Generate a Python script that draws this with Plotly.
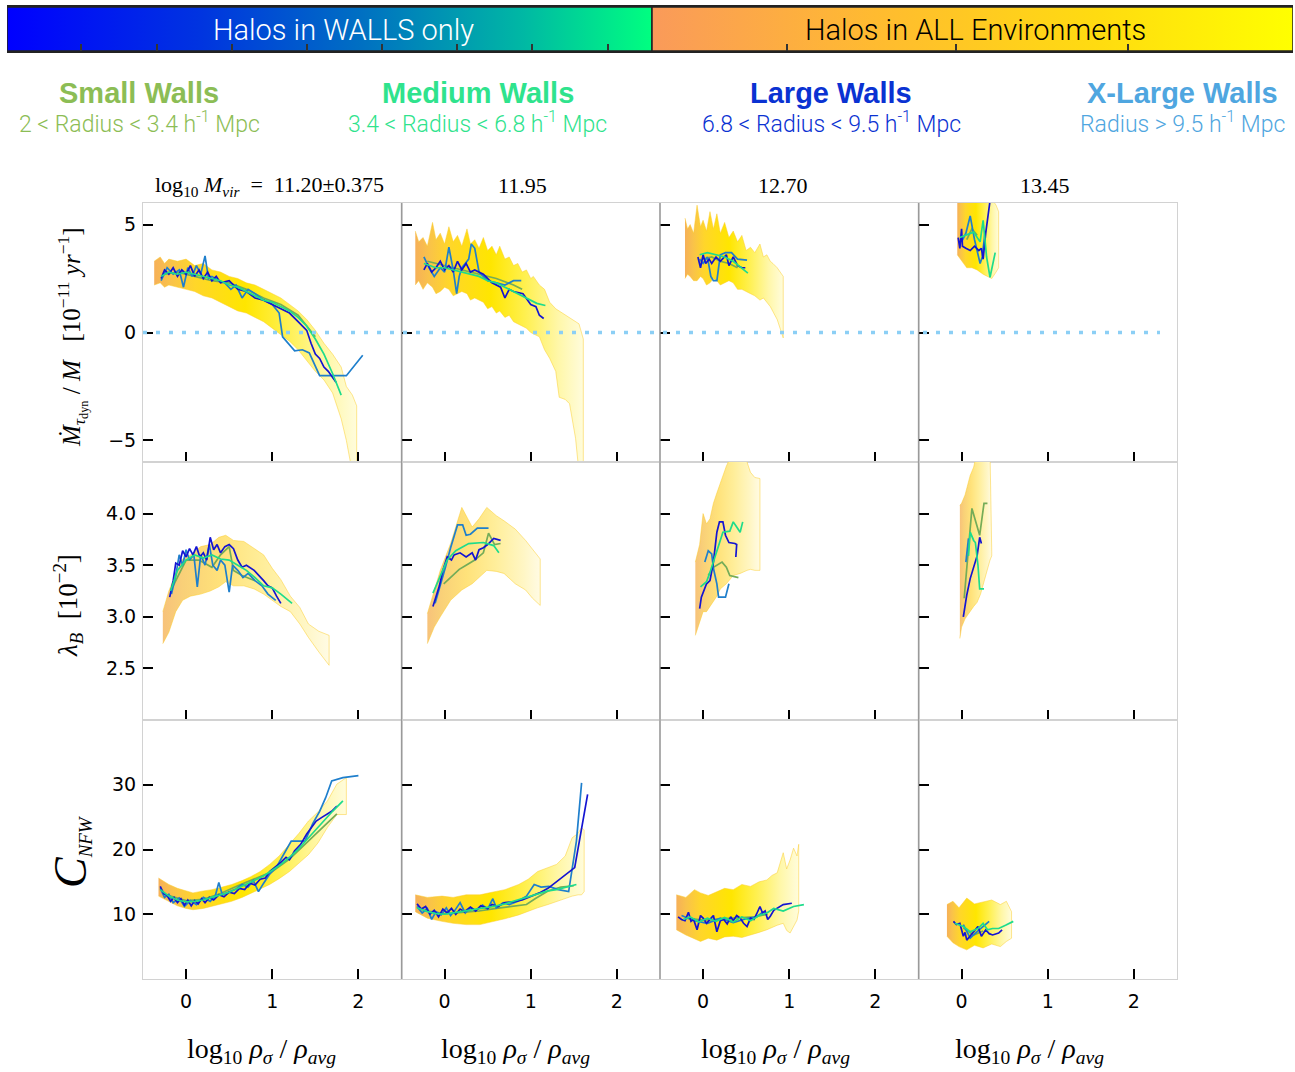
import plotly.graph_objects as go

W, H = 1295, 1072

# ---------------- data ----------------
# x = log10 rho_sigma / rho_avg
# b = band "Halos in ALL Environments" (x, lower, upper)
# s = Small Walls, m = Medium Walls, l = Large Walls, xl = X-Large Walls

# ===== Row 1 : Mdot_tau_dyn / M  [1e-11 yr^-1] =====
b11_x = [-0.37, -0.3, -0.25, -0.2, -0.1, 0.0, 0.1, 0.2, 0.3, 0.4, 0.5, 0.6, 0.7, 0.8, 0.9, 1.0, 1.1, 1.2, 1.3, 1.4, 1.5, 1.6, 1.7, 1.8, 1.86, 1.93, 1.98]
b11_hi = [3.3, 3.5, 3.2, 3.4, 3.3, 3.4, 3.1, 3.2, 2.9, 2.8, 2.6, 2.5, 2.3, 2.2, 2.0, 1.8, 1.6, 1.3, 1.0, 0.6, 0.1, -0.5, -1.0, -1.6, -2.5, -2.9, -3.4]
b11_lo = [2.2, 2.3, 2.1, 2.2, 2.1, 2.0, 1.9, 1.7, 1.6, 1.4, 1.2, 1.0, 0.9, 0.7, 0.5, 0.2, -0.1, -0.4, -0.8, -1.3, -1.8, -2.2, -2.8, -4.0, -5.0, -6.5, -6.5]
l11_x = [-0.29, -0.25, -0.2, -0.15, -0.1, -0.05, 0.0, 0.05, 0.1, 0.15, 0.2, 0.25, 0.3, 0.35, 0.4, 0.5, 0.6, 0.7, 0.8, 0.9, 1.0, 1.1, 1.2, 1.3, 1.4, 1.45, 1.5, 1.55, 1.6, 1.65, 1.7, 1.74]
l11_y = [2.5, 2.9, 2.7, 3.0, 2.6, 2.9, 2.7, 3.1, 2.6, 2.9, 2.5, 2.8, 2.4, 2.6, 2.3, 2.4, 2.0, 1.9, 1.6, 1.5, 1.3, 1.1, 0.9, 0.5, 0.1, -0.5, -1.0, -1.2, -1.6, -1.8, -2.1, -2.3]
xl11_x = [-0.29, -0.22, -0.15, -0.08, -0.03, 0.02, 0.07, 0.12, 0.17, 0.22, 0.26, 0.3, 0.38, 0.45, 0.52, 0.58, 0.65, 0.72, 0.8, 0.9, 1.0, 1.08, 1.12, 1.26, 1.35, 1.43, 1.55, 1.86, 2.05]
xl11_y = [2.4, 3.0, 2.7, 2.9, 2.1, 3.0, 2.6, 3.1, 2.7, 3.55, 2.5, 2.6, 2.4, 2.3, 2.0, 2.2, 1.6, 2.0, 1.8, 1.5, 1.3, 0.9, -0.2, -0.85, -0.8, -0.95, -2.0, -2.0, -1.05]
m11_x = [-0.29, -0.2, -0.1, 0.0, 0.1, 0.2, 0.3, 0.4, 0.5, 0.6, 0.7, 0.8, 0.9, 1.0, 1.1, 1.2, 1.3, 1.4, 1.5, 1.6, 1.7, 1.8]
m11_y = [2.6, 2.8, 2.7, 2.8, 2.7, 2.6, 2.5, 2.4, 2.2, 2.1, 1.9, 1.7, 1.5, 1.4, 1.2, 1.0, 0.7, 0.3, -0.3, -1.0, -1.9, -2.9]
s11_x = [-0.25, -0.1, 0.1, 0.3, 0.5, 0.7, 0.9, 1.1, 1.3, 1.5]
s11_y = [2.7, 2.8, 2.6, 2.4, 2.3, 2.0, 1.6, 1.3, 0.8, -0.2]

b12_x = [-0.34, -0.3, -0.25, -0.2, -0.14, -0.1, -0.05, 0.0, 0.05, 0.1, 0.15, 0.2, 0.26, 0.3, 0.35, 0.4, 0.45, 0.5, 0.55, 0.6, 0.64, 0.7, 0.75, 0.8, 0.85, 0.9, 0.95, 1.0, 1.03, 1.1, 1.16, 1.22, 1.29, 1.33, 1.4, 1.45, 1.52, 1.56, 1.61]
b12_hi = [4.7, 4.2, 4.4, 4.0, 5.1, 4.3, 4.6, 4.1, 4.9, 4.2, 4.5, 4.0, 4.8, 4.1, 4.3, 3.9, 4.4, 3.8, 4.0, 3.6, 4.0, 3.4, 3.5, 3.1, 3.2, 2.8, 2.9, 2.5, 2.6, 2.2, 2.0, 1.4, 1.1, 1.0, 0.8, 0.7, 0.5, 0.4, -0.3]
b12_lo = [2.2, 2.4, 2.0, 2.3, 2.1, 1.8, 1.9, 2.1, 2.0, 1.7, 1.8, 1.9, 1.8, 1.5, 1.6, 1.5, 1.4, 1.1, 1.2, 0.9, 1.0, 0.7, 0.8, 0.5, 0.4, 0.3, 0.2, 0.0, -0.05, -0.2, -0.8, -1.2, -1.8, -3.0, -3.1, -3.3, -4.9, -6.5, -6.5]
l12_x = [-0.24, -0.2, -0.15, -0.1, -0.05, 0.0, 0.05, 0.1, 0.15, 0.2, 0.25, 0.3, 0.35, 0.45, 0.55, 0.6, 0.65, 0.7, 0.75, 0.8, 0.91, 1.0, 1.06, 1.1, 1.15]
l12_y = [2.9, 3.2, 2.8, 3.0, 3.3, 2.9, 3.1, 2.8, 3.3, 2.9, 3.2, 2.8, 2.9, 2.7, 2.3, 2.2, 2.1, 1.6, 2.0, 1.9, 1.8, 1.3, 1.2, 0.8, 0.65]
xl12_x = [-0.24, -0.18, -0.12, -0.05, 0.0, 0.05, 0.1, 0.14, 0.17, 0.2, 0.24, 0.28, 0.31, 0.35, 0.4, 0.5, 0.6, 0.7, 0.8, 0.89]
xl12_y = [3.5, 3.0, 2.6, 3.0, 2.8, 3.95, 2.9, 1.8, 2.6, 3.0, 3.2, 3.4, 4.1, 3.9, 2.8, 2.4, 2.3, 2.2, 2.4, 2.4]
m12_x = [-0.24, -0.1, 0.0, 0.1, 0.2, 0.3, 0.4, 0.5, 0.6, 0.7, 0.8, 0.9, 1.0, 1.07, 1.17]
m12_y = [3.2, 3.0, 3.0, 2.9, 2.8, 2.7, 2.6, 2.4, 2.3, 2.1, 1.9, 1.7, 1.5, 1.35, 1.25]
s12_x = [-0.2, 0.0, 0.2, 0.4, 0.6, 0.8, 0.9]
s12_y = [3.3, 3.1, 2.9, 2.7, 2.5, 2.2, 2.0]

b13_x = [-0.21, -0.18, -0.15, -0.11, -0.07, -0.03, 0.0, 0.04, 0.08, 0.12, 0.16, 0.2, 0.25, 0.3, 0.35, 0.4, 0.45, 0.5, 0.55, 0.6, 0.66, 0.7, 0.74, 0.78, 0.81, 0.86, 0.93]
b13_hi = [5.3, 4.8, 5.0, 4.6, 5.9, 4.9, 5.2, 4.7, 5.6, 4.8, 5.5, 4.6, 5.1, 4.4, 4.7, 4.2, 4.5, 3.8, 3.95, 3.7, 4.1, 3.5, 3.6, 3.3, 3.2, 3.0, 2.6]
b13_lo = [2.5, 2.7, 2.6, 2.4, 2.4, 2.6, 2.5, 2.2, 2.3, 2.5, 2.4, 2.2, 2.3, 2.4, 2.3, 2.0, 2.0, 1.9, 1.8, 1.7, 1.5, 1.6, 1.4, 1.2, 1.0, 0.6, -0.25]
l13_x = [-0.06, -0.03, 0.0, 0.03, 0.07, 0.1, 0.15, 0.2, 0.27, 0.3, 0.35, 0.4, 0.45, 0.49]
l13_y = [3.5, 3.0, 3.6, 3.2, 3.4, 3.2, 3.5, 3.3, 3.6, 3.1, 3.5, 3.1, 3.0, 3.0]
xl13_x = [-0.04, 0.0, 0.05, 0.09, 0.12, 0.16, 0.2, 0.26, 0.33, 0.4, 0.51]
xl13_y = [3.4, 3.2, 3.5, 2.6, 2.4, 2.4, 3.6, 3.7, 3.7, 3.4, 3.35]
m13_x = [-0.04, 0.05, 0.15, 0.25, 0.35, 0.45, 0.52]
m13_y = [3.6, 3.7, 3.6, 3.5, 3.3, 3.0, 2.75]
s13_x = [0.0, 0.1, 0.2, 0.3, 0.4]
s13_y = [3.4, 3.5, 3.3, 3.2, 3.0]

b14_x = [-0.05, 0.0, 0.06, 0.12, 0.18, 0.25, 0.3, 0.35, 0.4, 0.43]
b14_hi = [6.5, 6.5, 6.5, 6.5, 6.5, 6.5, 6.5, 6.2, 5.9, 5.6]
b14_lo = [3.6, 3.3, 3.0, 3.0, 2.9, 2.7, 2.6, 2.5, 2.8, 3.0]
l14_x = [-0.04, -0.02, 0.0, 0.01, 0.05, 0.1, 0.15, 0.2, 0.23, 0.25, 0.28, 0.3, 0.33]
l14_y = [4.4, 3.9, 4.8, 4.0, 3.9, 3.8, 4.0, 3.8, 3.9, 3.4, 4.6, 5.2, 6.1]
xl14_x = [0.0, 0.05, 0.1, 0.15, 0.215, 0.24, 0.27]
xl14_y = [4.2, 4.6, 5.4, 4.3, 3.2, 3.5, 4.6]
m14_x = [-0.02, 0.05, 0.14, 0.215, 0.25, 0.29, 0.33, 0.39]
m14_y = [4.4, 4.5, 4.65, 4.2, 5.2, 3.5, 2.56, 3.7]
s14_x = [0.06, 0.12, 0.18]
s14_y = [4.3, 4.8, 4.5]

# ===== Row 2 : lambda_B  [1e-2] =====
b21_x = [-0.27, -0.2, -0.12, -0.04, 0.05, 0.17, 0.28, 0.38, 0.46, 0.55, 0.67, 0.79, 0.9, 1.0, 1.1, 1.21, 1.32, 1.42, 1.54, 1.66]
b21_hi = [3.05, 3.25, 3.42, 3.56, 3.6, 3.68, 3.7, 3.77, 3.79, 3.74, 3.73, 3.66, 3.6, 3.47, 3.36, 3.2, 3.09, 2.93, 2.86, 2.82]
b21_lo = [2.74, 2.85, 3.05, 3.16, 3.2, 3.22, 3.25, 3.29, 3.34, 3.3, 3.3, 3.27, 3.22, 3.16, 3.1, 3.05, 2.93, 2.80, 2.66, 2.53]
l21_x = [-0.19, -0.15, -0.12, -0.08, -0.04, 0.0, 0.04, 0.08, 0.12, 0.16, 0.2, 0.24, 0.28, 0.32, 0.36, 0.4, 0.45, 0.5, 0.55, 0.6, 0.65, 0.7, 0.79, 0.85, 0.9, 0.95, 1.0, 1.05, 1.1]
l21_y = [3.19, 3.35, 3.52, 3.5, 3.64, 3.58, 3.66, 3.6, 3.68, 3.58, 3.62, 3.55, 3.77, 3.65, 3.7, 3.62, 3.68, 3.7, 3.66, 3.55, 3.48, 3.5, 3.45, 3.4, 3.35, 3.3, 3.28, 3.2, 3.13]
xl21_x = [-0.17, -0.12, -0.08, -0.04, 0.0, 0.04, 0.09, 0.13, 0.17, 0.22, 0.27, 0.31, 0.36, 0.4, 0.45, 0.5, 0.54, 0.6, 0.66, 0.72, 0.8, 0.88, 0.95, 1.04]
xl21_y = [3.22, 3.4, 3.6, 3.5, 3.65, 3.55, 3.6, 3.29, 3.6, 3.5, 3.7, 3.5, 3.45, 3.55, 3.5, 3.24, 3.5, 3.45, 3.38, 3.42, 3.35, 3.3, 3.22, 3.16]
m21_x = [-0.18, -0.1, 0.0, 0.1, 0.2, 0.3, 0.4, 0.5, 0.6, 0.7, 0.8, 0.9, 1.0, 1.1, 1.23]
m21_y = [3.25, 3.45, 3.55, 3.6, 3.57, 3.6, 3.56, 3.55, 3.5, 3.45, 3.38, 3.3, 3.28, 3.22, 3.13]
s21_x = [-0.15, 0.0, 0.15, 0.3, 0.4, 0.5, 0.55, 0.65, 0.8]
s21_y = [3.3, 3.55, 3.55, 3.48, 3.6, 3.68, 3.45, 3.4, 3.35]

b22_x = [-0.2, -0.12, -0.05, 0.07, 0.2, 0.32, 0.4, 0.49, 0.6, 0.69, 0.82, 0.94, 1.02, 1.11]
b22_hi = [3.03, 3.25, 3.45, 3.71, 4.06, 3.87, 3.95, 4.06, 3.98, 3.93, 3.85, 3.74, 3.65, 3.56]
b22_lo = [2.74, 2.9, 3.0, 3.16, 3.26, 3.32, 3.38, 3.45, 3.44, 3.42, 3.32, 3.26, 3.18, 3.11]
l22_x = [-0.135, -0.1, -0.06, -0.02, 0.03, 0.08, 0.11, 0.18, 0.25, 0.32, 0.36, 0.4, 0.45, 0.5, 0.57, 0.65]
l22_y = [3.10, 3.2, 3.3, 3.45, 3.58, 3.55, 3.6, 3.62, 3.58, 3.62, 3.55, 3.65, 3.67, 3.7, 3.76, 3.74]
xl22_x = [-0.11, -0.05, 0.01, 0.07, 0.15, 0.21, 0.25, 0.3, 0.38, 0.51]
xl22_y = [3.13, 3.3, 3.48, 3.67, 3.89, 3.89, 3.79, 3.8, 3.86, 3.86]
m22_x = [-0.135, 0.03, 0.13, 0.28, 0.45, 0.57, 0.63]
m22_y = [3.23, 3.55, 3.64, 3.71, 3.72, 3.69, 3.62]
s22_x = [-0.01, 0.1, 0.17, 0.25, 0.35, 0.45, 0.51, 0.58, 0.65]
s22_y = [3.32, 3.4, 3.46, 3.5, 3.55, 3.62, 3.81, 3.7, 3.71]

b23_x = [-0.09, -0.04, 0.0, 0.04, 0.08, 0.12, 0.16, 0.2, 0.27, 0.35, 0.43, 0.51, 0.55, 0.6, 0.66]
b23_hi = [3.53, 3.7, 4.0, 3.9, 3.95, 4.1, 4.2, 4.3, 4.46, 4.6, 4.6, 4.5, 4.4, 4.35, 4.34]
b23_lo = [2.82, 2.95, 3.05, 3.05, 3.09, 3.15, 3.2, 3.27, 3.32, 3.4, 3.42, 3.45, 3.46, 3.45, 3.45]
l23_x = [-0.04, -0.02, 0.04, 0.08, 0.12, 0.16, 0.19, 0.23, 0.26, 0.3, 0.37, 0.39, 0.38]
l23_y = [3.08, 3.19, 3.32, 3.35, 3.53, 3.82, 3.92, 3.92, 3.79, 3.72, 3.71, 3.7, 3.58]
xl23_x = [0.02, 0.06, 0.1, 0.12, 0.16, 0.18, 0.22, 0.26, 0.3]
xl23_y = [3.53, 3.64, 3.61, 3.47, 3.32, 3.19, 3.19, 3.19, 3.32]
m23_x = [-0.03, 0.04, 0.08, 0.16, 0.23, 0.31, 0.35, 0.39, 0.43, 0.46]
m23_y = [3.29, 3.34, 3.43, 3.63, 3.82, 3.83, 3.92, 3.87, 3.82, 3.92]
s23_x = [0.06, 0.12, 0.22, 0.27, 0.31, 0.41]
s23_y = [3.40, 3.48, 3.53, 3.48, 3.40, 3.38]

b24_x = [-0.02, 0.0, 0.04, 0.1, 0.14, 0.18, 0.22, 0.26, 0.3, 0.33, 0.35]
b24_hi = [4.08, 4.1, 4.18, 4.37, 4.45, 4.6, 4.6, 4.6, 4.6, 4.6, 3.63]
b24_lo = [2.79, 2.9, 2.98, 3.05, 3.1, 3.14, 3.22, 3.34, 3.45, 3.55, 3.59]
l24_x = [0.02, 0.06, 0.1, 0.14, 0.18, 0.21, 0.23]
l24_y = [3.0, 3.21, 3.37, 3.47, 3.59, 3.77, 3.71]
xl24_x = [0.05, 0.08]
xl24_y = [3.53, 3.76]
m24_x = [0.08, 0.1, 0.14, 0.16, 0.19, 0.21, 0.26]
m24_y = [3.59, 3.82, 3.74, 3.72, 3.5, 3.27, 3.27]
s24_x = [0.03, 0.08, 0.12, 0.21, 0.26, 0.3]
s24_y = [3.18, 3.66, 4.05, 3.79, 4.1, 4.1]

# ===== Row 3 : C_NFW =====
b31_x = [-0.32, -0.2, -0.1, 0.0, 0.08, 0.2, 0.3, 0.42, 0.53, 0.65, 0.75, 0.86, 0.97, 1.08, 1.2, 1.31, 1.42, 1.53, 1.64, 1.75, 1.86]
b31_hi = [15.6, 14.6, 14.0, 13.6, 13.3, 13.6, 13.8, 14.2, 14.6, 15.2, 15.8, 16.6, 17.7, 19.0, 20.8, 22.5, 24.4, 25.8, 27.5, 30.1, 31.1]
b31_lo = [12.8, 12.0, 11.3, 10.9, 10.7, 10.9, 11.2, 11.6, 12.0, 12.6, 13.2, 13.9, 14.6, 15.5, 16.6, 17.9, 19.2, 21.0, 23.4, 25.4, 25.4]
l31_x = [-0.3, -0.26, -0.22, -0.18, -0.14, -0.1, -0.06, -0.02, 0.02, 0.06, 0.1, 0.14, 0.18, 0.22, 0.27, 0.32, 0.38, 0.44, 0.5, 0.56, 0.62, 0.68, 0.74, 0.8, 0.86, 0.92, 0.97, 1.03, 1.1, 1.16, 1.2, 1.26, 1.33, 1.4, 1.46, 1.51, 1.58, 1.63, 1.69, 1.75]
l31_y = [14.3, 13.2, 12.9, 12.0, 12.6, 11.8, 12.4, 11.4, 12.2, 11.3, 12.1, 11.6, 12.4, 11.8, 12.6, 12.2, 13.0, 12.7, 13.4, 13.2, 14.0, 13.8, 14.8, 14.5, 15.4, 15.6, 16.6, 17.2, 18.0, 18.8, 18.4, 19.8, 20.8, 22.4, 23.6, 24.4, 25.0, 25.4, 25.9, 26.7]
xl31_x = [-0.3, -0.25, -0.2, -0.15, -0.08, -0.02, 0.05, 0.12, 0.2, 0.28, 0.34, 0.38, 0.42, 0.5, 0.58, 0.65, 0.72, 0.78, 0.84, 0.9, 0.97, 1.05, 1.13, 1.22, 1.38, 1.47, 1.55, 1.62, 1.69, 1.82, 2.0]
xl31_y = [14.0, 12.6, 13.1, 11.8, 12.5, 11.2, 12.1, 11.5, 12.6, 12.0, 12.9, 14.9, 13.0, 13.5, 13.9, 14.6, 14.2, 15.2, 13.5, 14.8, 16.2, 17.3, 19.2, 21.3, 21.3, 24.0, 25.9, 28.0, 30.6, 31.1, 31.4]
m31_x = [-0.3, -0.2, -0.1, 0.0, 0.1, 0.2, 0.3, 0.4, 0.5, 0.6, 0.7, 0.8, 0.9, 1.0, 1.1, 1.2, 1.3, 1.4, 1.5, 1.6, 1.7, 1.82]
m31_y = [13.8, 12.8, 12.2, 11.9, 12.0, 12.2, 12.6, 13.0, 13.4, 14.0, 14.6, 15.2, 15.9, 16.8, 17.7, 18.8, 20.0, 21.5, 23.0, 24.5, 25.9, 27.5]
s31_x = [-0.2, 0.0, 0.2, 0.4, 0.6, 0.8, 1.0, 1.2, 1.4, 1.6, 1.75]
s31_y = [12.9, 12.1, 12.3, 13.2, 14.4, 15.5, 16.6, 18.5, 21.0, 23.5, 25.5]

b32_x = [-0.34, -0.2, -0.03, 0.1, 0.25, 0.41, 0.55, 0.7, 0.86, 0.97, 1.08, 1.2, 1.3, 1.4, 1.48, 1.55, 1.59, 1.62]
b32_hi = [13.0, 12.6, 12.8, 12.6, 13.0, 13.0, 13.4, 13.8, 14.6, 15.4, 16.6, 17.2, 17.7, 19.0, 21.8, 22.5, 23.4, 23.0]
b32_lo = [10.4, 9.4, 8.9, 8.6, 8.4, 8.4, 8.8, 9.3, 9.9, 10.4, 11.0, 11.5, 12.0, 12.4, 12.8, 13.0, 13.0, 13.5]
l32_x = [-0.32, -0.27, -0.22, -0.17, -0.12, -0.07, -0.02, 0.03, 0.08, 0.13, 0.18, 0.23, 0.3, 0.36, 0.42, 0.5, 0.55, 0.62, 0.7, 0.8, 0.9, 1.0, 1.1, 1.2, 1.3, 1.4, 1.51, 1.66]
l32_y = [11.6, 10.8, 11.2, 10.0, 10.6, 9.6, 10.8, 10.2, 10.9, 10.0, 10.8, 10.4, 11.1, 10.5, 11.3, 10.9, 11.5, 11.2, 11.8, 11.9, 12.2, 12.7, 13.3, 14.0, 15.0, 16.0, 17.2, 28.5]
xl32_x = [-0.32, -0.26, -0.2, -0.15, -0.1, -0.04, 0.02, 0.07, 0.12, 0.18, 0.24, 0.3, 0.36, 0.44, 0.5, 0.56, 0.6, 0.68, 0.75, 0.85, 0.95, 1.04, 1.12, 1.21, 1.32, 1.44, 1.53, 1.59]
xl32_y = [11.2, 10.2, 10.9, 9.2, 10.4, 9.9, 11.0, 9.8, 10.6, 11.8, 10.2, 11.0, 10.6, 11.4, 10.8, 12.4, 11.0, 11.8, 11.5, 12.0, 12.8, 14.6, 14.2, 14.3, 13.8, 13.5, 21.3, 30.3]
m32_x = [-0.32, -0.2, -0.1, 0.0, 0.1, 0.2, 0.3, 0.4, 0.5, 0.6, 0.7, 0.8, 0.9, 1.0, 1.1, 1.2, 1.3, 1.4, 1.53]
m32_y = [11.0, 10.4, 10.1, 10.0, 10.2, 10.4, 10.6, 10.8, 11.0, 11.3, 11.6, 12.0, 12.4, 12.8, 13.2, 13.6, 13.8, 14.2, 14.6]
s32_x = [-0.25, 0.0, 0.2, 0.4, 0.6, 0.8, 0.95, 1.05, 1.2, 1.35, 1.5]
s32_y = [10.6, 10.1, 10.3, 10.5, 10.9, 11.2, 11.5, 12.4, 13.6, 14.2, 14.4]

b33_x = [-0.31, -0.2, -0.1, -0.03, 0.06, 0.16, 0.25, 0.35, 0.45, 0.55, 0.65, 0.74, 0.8, 0.86, 0.93, 0.97, 1.01, 1.05, 1.09, 1.11]
b33_hi = [13.0, 12.6, 13.8, 13.3, 12.9, 13.5, 14.0, 13.8, 14.6, 14.3, 15.0, 15.3, 16.0, 16.4, 19.5, 17.0, 18.4, 20.2, 19.0, 20.8]
b33_lo = [7.6, 6.8, 6.2, 5.8, 6.3, 6.0, 6.5, 6.6, 6.4, 6.8, 7.2, 7.6, 7.9, 8.3, 8.6, 7.5, 7.1, 8.2, 9.1, 10.5]
l33_x = [-0.29, -0.25, -0.21, -0.17, -0.14, -0.11, -0.07, -0.03, 0.0, 0.04, 0.08, 0.12, 0.16, 0.2, 0.24, 0.28, 0.32, 0.35, 0.39, 0.43, 0.47, 0.51, 0.55, 0.59, 0.62, 0.66, 0.69, 0.72, 0.75, 0.78, 0.82, 0.86, 0.93, 1.03]
l33_y = [9.6, 9.2, 9.0, 10.3, 8.9, 9.2, 7.6, 9.8, 9.4, 8.6, 9.2, 9.8, 7.3, 9.0, 9.2, 8.5, 9.6, 9.0, 9.8, 9.4, 8.6, 8.1, 9.4, 9.2, 10.0, 11.2, 10.2, 10.5, 9.2, 9.7, 10.6, 10.9, 11.5, 11.7]
xl33_x = [-0.25, -0.1, 0.05, 0.2, 0.35, 0.5, 0.62, 0.7]
xl33_y = [9.8, 9.0, 8.6, 9.4, 8.7, 9.3, 9.6, 10.4]
m33_x = [-0.23, -0.15, -0.05, 0.05, 0.15, 0.25, 0.35, 0.45, 0.55, 0.65, 0.74, 0.82, 0.93, 1.05, 1.17]
m33_y = [9.2, 9.6, 8.8, 9.4, 8.9, 9.5, 8.8, 9.6, 9.0, 9.8, 10.2, 10.9, 10.5, 11.2, 11.5]
s33_x = [-0.2, 0.0, 0.2, 0.4, 0.6, 0.75]
s33_y = [9.4, 9.1, 9.3, 9.5, 9.6, 10.0]

b34_x = [-0.17, -0.1, -0.03, 0.06, 0.15, 0.25, 0.35, 0.45, 0.52, 0.58]
b34_hi = [11.5, 12.0, 11.0, 12.5, 11.6, 11.9, 12.2, 11.5, 12.0, 10.4]
b34_lo = [6.6, 5.6, 5.0, 4.5, 5.2, 4.8, 5.4, 5.0, 5.8, 6.3]
l34_x = [-0.095, -0.06, -0.02, 0.0, 0.02, 0.04, 0.06, 0.09, 0.11, 0.15, 0.19, 0.23, 0.28, 0.32, 0.36, 0.43, 0.47]
l34_y = [8.9, 8.4, 8.6, 7.4, 6.6, 7.2, 6.0, 6.5, 6.8, 7.5, 8.1, 6.6, 7.6, 7.0, 6.8, 7.1, 7.6]
xl34_x = [0.02, 0.1, 0.17, 0.25, 0.32]
xl34_y = [8.4, 6.3, 7.2, 8.1, 8.9]
m34_x = [-0.08, 0.02, 0.1, 0.19, 0.25, 0.3, 0.36, 0.43, 0.51, 0.6]
m34_y = [8.6, 8.1, 7.3, 7.8, 8.6, 7.6, 7.8, 7.8, 8.3, 8.9]
s34_x = [0.02, 0.14, 0.25]
s34_y = [7.9, 6.8, 7.4]

# ---------------- labels / ticks ----------------
mass_titles = ["log<sub>10</sub> <i>M</i><sub><i>vir</i></sub>  =  11.20±0.375", "11.95", "12.70", "13.45"]
x_tickvals = [0, 1, 2]
x_ticktext = ["0", "1", "2"]
y_tickvals = [[-5, 0, 5], [2.5, 3.0, 3.5, 4.0], [10, 20, 30]]
y_ticktext = [["−5", "0", "5"], ["2.5", "3.0", "3.5", "4.0"], ["10", "20", "30"]]
y_ranges = [[-6, 6], [2.0, 4.5], [0, 40]]
x_range = [-0.5, 2.5]
zero_level = 0
wall_names = ["Small Walls", "Medium Walls", "Large Walls", "X-Large Walls"]
wall_ranges = ["2 &lt; Radius &lt; 3.4 h<sup>-1</sup> Mpc", "3.4 &lt; Radius &lt; 6.8 h<sup>-1</sup> Mpc",
               "6.8 &lt; Radius &lt; 9.5 h<sup>-1</sup> Mpc", "Radius &gt; 9.5 h<sup>-1</sup> Mpc"]
wall_label_colors = ["#8cbd55", "#2fe38d", "#0a32d2", "#4fa6e0"]
banner_edges = [7, 652, 1293]
banner_ticks = [81, 157, 232, 307, 382, 457, 532, 608, 787, 956, 1128]

# series styling
line_colors = {"small": "#74ac58", "xlarge": "#1f7fcc", "large": "#1414d2", "medium": "#1edc8c"}
band_scale_strong = [[0.0, "#f6b058"], [0.08, "#f9c24a"], [0.2, "#ffd62a"], [0.45, "#ffe600"],
                     [0.65, "#fff04e"], [0.85, "#fff7a8"], [1.0, "#fffcdc"]]
band_scale_pale = [[0.0, "#f7c27a"], [0.12, "#f9d078"], [0.35, "#ffe27a"], [0.6, "#ffee9a"],
                   [0.85, "#fff6c4"], [1.0, "#fffbe4"]]
row_band_scale = [band_scale_strong, band_scale_pale, band_scale_strong]

panels = {
    (0, 0): dict(band=(b11_x, b11_lo, b11_hi), small=(s11_x, s11_y), xlarge=(xl11_x, xl11_y), large=(l11_x, l11_y), medium=(m11_x, m11_y)),
    (0, 1): dict(band=(b12_x, b12_lo, b12_hi), small=(s12_x, s12_y), xlarge=(xl12_x, xl12_y), large=(l12_x, l12_y), medium=(m12_x, m12_y)),
    (0, 2): dict(band=(b13_x, b13_lo, b13_hi), small=(s13_x, s13_y), xlarge=(xl13_x, xl13_y), large=(l13_x, l13_y), medium=(m13_x, m13_y)),
    (0, 3): dict(band=(b14_x, b14_lo, b14_hi), small=(s14_x, s14_y), xlarge=(xl14_x, xl14_y), large=(l14_x, l14_y), medium=(m14_x, m14_y)),
    (1, 0): dict(band=(b21_x, b21_lo, b21_hi), small=(s21_x, s21_y), xlarge=(xl21_x, xl21_y), large=(l21_x, l21_y), medium=(m21_x, m21_y)),
    (1, 1): dict(band=(b22_x, b22_lo, b22_hi), small=(s22_x, s22_y), xlarge=(xl22_x, xl22_y), large=(l22_x, l22_y), medium=(m22_x, m22_y)),
    (1, 2): dict(band=(b23_x, b23_lo, b23_hi), small=(s23_x, s23_y), xlarge=(xl23_x, xl23_y), large=(l23_x, l23_y), medium=(m23_x, m23_y)),
    (1, 3): dict(band=(b24_x, b24_lo, b24_hi), small=(s24_x, s24_y), xlarge=(xl24_x, xl24_y), large=(l24_x, l24_y), medium=(m24_x, m24_y)),
    (2, 0): dict(band=(b31_x, b31_lo, b31_hi), small=(s31_x, s31_y), xlarge=(xl31_x, xl31_y), large=(l31_x, l31_y), medium=(m31_x, m31_y)),
    (2, 1): dict(band=(b32_x, b32_lo, b32_hi), small=(s32_x, s32_y), xlarge=(xl32_x, xl32_y), large=(l32_x, l32_y), medium=(m32_x, m32_y)),
    (2, 2): dict(band=(b33_x, b33_lo, b33_hi), small=(s33_x, s33_y), xlarge=(xl33_x, xl33_y), large=(l33_x, l33_y), medium=(m33_x, m33_y)),
    (2, 3): dict(band=(b34_x, b34_lo, b34_hi), small=(s34_x, s34_y), xlarge=(xl34_x, xl34_y), large=(l34_x, l34_y), medium=(m34_x, m34_y)),
}

# ---------------- layout geometry (pixels) ----------------
COL_L = [143, 401.5, 660, 918.5]
COL_R = [401.5, 660, 918.5, 1177]
ROW_T = [203, 462, 720]
ROW_B = [462, 720, 979]


def px(x):
    return x / W


def py(y):
    return 1 - y / H


def ax_sfx(r, c):
    n = r * 4 + c + 1
    return "" if n == 1 else str(n)


fig = go.Figure()

# bands first
for (r, c), d in panels.items():
    s = ax_sfx(r, c)
    bx, blo, bhi = d["band"]
    assert len(bx) == len(blo) == len(bhi)
    fig.add_trace(go.Scatter(
        x=list(bx) + list(bx)[::-1], y=list(bhi) + list(blo)[::-1],
        xaxis="x" + s, yaxis="y" + s, mode="lines", fill="toself",
        fillgradient=dict(type="horizontal", colorscale=row_band_scale[r]),
        line=dict(color="rgba(250,205,40,0.7)", width=0.7),
        hoverinfo="skip", showlegend=False))

# lines
for (r, c), d in panels.items():
    s = ax_sfx(r, c)
    for key in ["small", "xlarge", "large", "medium"]:
        lx, ly = d[key]
        assert len(lx) == len(ly)
        fig.add_trace(go.Scatter(x=lx, y=ly, xaxis="x" + s, yaxis="y" + s, mode="lines",
                                 line=dict(color=line_colors[key], width=1.7),
                                 hoverinfo="skip", showlegend=False))

# banner
banner_l = [[0, "#0000ff"], [0.3, "#0034e0"], [0.55, "#0070c2"], [0.8, "#00b8a4"], [1, "#00ff80"]]
banner_r = [[0, "#fa9a5a"], [0.35, "#ffbb30"], [0.7, "#ffdc10"], [1, "#ffff00"]]
for (x0, x1), gs in [((banner_edges[0], banner_edges[1]), banner_l), ((banner_edges[1], banner_edges[2]), banner_r)]:
    fig.add_trace(go.Scatter(x=[x0, x1, x1, x0, x0], y=[0, 0, 1, 1, 0], xaxis="x13", yaxis="y13",
                             mode="lines", fill="toself",
                             fillgradient=dict(type="horizontal", colorscale=gs),
                             line=dict(color="#222222", width=1.5), hoverinfo="skip", showlegend=False))

layout = dict(width=W, height=H, margin=dict(l=0, r=0, t=0, b=0),
              paper_bgcolor="white", plot_bgcolor="rgba(0,0,0,0)", showlegend=False)

tickfont = dict(family="DejaVu Sans", size=19, color="black")
for r in range(3):
    for c in range(4):
        s = ax_sfx(r, c)
        layout["xaxis" + s] = dict(
            domain=[px(COL_L[c]), px(COL_R[c])], range=x_range, anchor="y" + s,
            tickvals=x_tickvals, ticktext=x_ticktext, ticks="inside", ticklen=10, tickwidth=2,
            tickcolor="black", showticklabels=(r == 2), tickfont=tickfont, ticklabelstandoff=5,
            showline=True, mirror=True, linecolor="#d2d2d2", linewidth=1,
            showgrid=False, zeroline=False, fixedrange=True)
        layout["yaxis" + s] = dict(
            domain=[py(ROW_B[r]), py(ROW_T[r])], range=y_ranges[r], anchor="x" + s,
            tickvals=y_tickvals[r], ticktext=y_ticktext[r], ticks="inside", ticklen=10, tickwidth=2,
            tickcolor="black", showticklabels=(c == 0), tickfont=tickfont, ticklabelstandoff=2,
            showline=True, mirror=True, linecolor="#d2d2d2", linewidth=1,
            showgrid=False, zeroline=False, fixedrange=True)

layout["xaxis13"] = dict(domain=[px(banner_edges[0]), px(banner_edges[2])], range=[banner_edges[0], banner_edges[2]],
                         anchor="y13", tickvals=banner_ticks, ticks="inside", ticklen=7, tickwidth=1.5,
                         tickcolor="#333333", showticklabels=False, showline=True, mirror=True,
                         linecolor="#222222", linewidth=1.5, showgrid=False, zeroline=False, fixedrange=True)
layout["yaxis13"] = dict(domain=[py(51), py(7)], range=[0, 1], anchor="x13", visible=False, fixedrange=True)

shapes = []
for xsep in COL_L[1:]:
    shapes.append(dict(type="line", xref="paper", yref="paper", x0=px(xsep), x1=px(xsep),
                       y0=py(ROW_B[2]), y1=py(ROW_T[0]), line=dict(color="#9a9a9a", width=1.3)))
shapes.append(dict(type="line", xref="paper", yref="y", x0=px(143), x1=px(1160), y0=zero_level, y1=zero_level,
                   line=dict(color="#8ccff5", width=3.5, dash="4px,9px")))
layout["shapes"] = shapes

serif = "Liberation Serif"
ann = []
ann.append(dict(x=px(343), y=py(30), text="Halos in WALLS only",
                font=dict(family="Roboto", size=29, color="white", weight=300)))
ann.append(dict(x=px(975), y=py(30), text="Halos in ALL Environments",
                font=dict(family="Roboto", size=29, color="black", weight=300)))
for name, rng, col, xc in zip(wall_names, wall_ranges, wall_label_colors, [139, 478, 831, 1182]):
    ann.append(dict(x=px(xc), y=py(93), text="<b>" + name + "</b>",
                    font=dict(family="Liberation Sans", size=29, color=col)))
    ann.append(dict(x=px(xc), y=py(122), text=rng,
                    font=dict(family="Roboto", size=23, color=col, weight=300)))
for title, xc in zip(mass_titles, [269, 522, 783, 1045]):
    ann.append(dict(x=px(xc), y=py(186), text=title, font=dict(family=serif, size=22, color="black")))
xtitle = "log<sub>10</sub> <i>ρ<sub>σ</sub></i> / <i>ρ<sub>avg</sub></i>"
for xc in [261, 515, 775, 1029]:
    ann.append(dict(x=px(xc), y=py(1050), text=xtitle, font=dict(family=serif, size=28, color="black")))
ann.append(dict(x=px(72), y=py(337), textangle=-90,
                text="<i>Ṁ</i><sub><i>τ</i><sub>dyn</sub></sub> / <i>M</i>   [10<sup>−11</sup> <i>yr</i><sup>−1</sup>]",
                font=dict(family=serif, size=25, color="black")))
ann.append(dict(x=px(68), y=py(606), textangle=-90,
                text="<i>λ</i><sub><i>B</i></sub>  [10<sup>−2</sup>]",
                font=dict(family=serif, size=27, color="black")))
ann.append(dict(x=px(70), y=py(852), textangle=-90,
                text="<span style='font-size:46px'><i>C</i></span><sub><i>NFW</i></sub>",
                font=dict(family=serif, size=27, color="black")))
for a in ann:
    a.update(xref="paper", yref="paper", showarrow=False, xanchor="center", yanchor="middle")
layout["annotations"] = ann

fig.update_layout(**layout)
fig.write_html("out.html")
